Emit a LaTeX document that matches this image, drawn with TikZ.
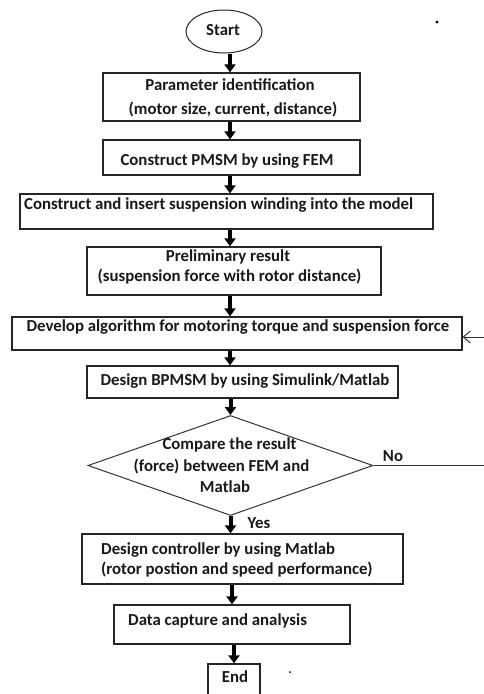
\documentclass[tikz,border=0pt]{standalone}
\usepackage{fontspec}
\setmainfont{Carlito}
\usetikzlibrary{shapes.geometric,arrows.meta}
\begin{document}
\begin{tikzpicture}[x=1pt,y=-1pt,
  box/.style={draw=black!85,line width=1.3pt,rectangle,inner sep=0pt},
  txt/.style={font=\fontsize{16.8}{18}\selectfont\bfseries,inner sep=0pt,text=black!90},
  arr/.style={line width=4pt,draw=black,-{Triangle[width=11pt,length=8pt]}},
  thin/.style={draw=black!80,line width=1pt}]
\useasboundingbox (0,0) rectangle (484,694);
% boxes
\node[ellipse,draw=black!85,line width=1pt,minimum width=76pt,minimum height=43pt,inner sep=0pt] (start) at (224,31.5) {};
\node[box,minimum width=257pt,minimum height=48pt] (param) at (231.5,97) {};
\node[box,minimum width=257pt,minimum height=35pt] (pmsm) at (231.5,157.5) {};
\node[box,minimum width=413pt,minimum height=35pt] (wind) at (226.5,211.5) {};
\node[box,minimum width=294pt,minimum height=48pt] (prel) at (234,271) {};
\node[box,minimum width=450pt,minimum height=33pt] (dev) at (237,333.5) {};
\node[box,minimum width=311pt,minimum height=32pt] (bpm) at (242.5,382) {};
\node[diamond,thin,minimum width=285pt,minimum height=100pt,aspect=2.85,inner sep=0pt] (cmp) at (230.5,465.5) {};
\node[box,minimum width=321pt,minimum height=50pt] (ctrl) at (242.5,559) {};
\node[box,minimum width=236pt,minimum height=39pt] (data) at (232,624.5) {};
\node[box,minimum width=52pt,minimum height=40pt] (end) at (234,684) {};
% texts
\node[txt] (tstart) at (223,30) {Start};
\node[txt] (tp1) at (230,85) {Parameter identification};
\node[txt] (tp2) at (233,110) {(motor size, current, distance)};
\node[txt] (tpm) at (227,161) {Construct PMSM by using FEM};
\node[txt,anchor=west] (twi) at (24,205) {Construct and insert suspension winding into the model};
\node[txt] (tpr1) at (228,257) {Preliminary result};
\node[txt] (tpr2) at (229.5,277) {(suspension force with rotor distance)};
\node[txt] (tdev) at (238,327) {Develop algorithm for motoring torque and suspension force};
\node[txt] (tbpm) at (245,381) {Design BPMSM by using Simulink/Matlab};
\node[txt] (tc1) at (229.5,445) {Compare the result};
\node[txt] (tc2) at (221.5,467) {(force) between FEM and};
\node[txt] (tc3) at (225,487) {Matlab};
\node[txt] (tno) at (393,456) {No};
\node[txt] (tyes) at (259,523) {Yes};
\node[txt,anchor=west] (tct1) at (101,550) {Design controller by using Matlab};
\node[txt,anchor=west] (tct2) at (101,570) {(rotor postion and speed performance)};
\node[txt,anchor=west] (tda) at (128,621) {Data capture and analysis};
\node[txt] (tend) at (235,677) {End};
% specks
\fill[black] (437,22) circle (1.6pt);
\fill[black] (290,672) circle (1pt);
% column coordinate
\coordinate (col) at (230,0);
\coordinate (redge) at (484,465.5);
\coordinate (redge2) at (484,337);
% arrows
\draw[arr] (start.south -| col) -- (param.north -| col);
\draw[arr] (param.south -| col) -- (pmsm.north -| col);
\draw[arr] (pmsm.south -| col) -- (wind.north -| col);
\draw[arr] (wind.south -| col) -- (prel.north -| col);
\draw[arr] (prel.south -| col) -- (dev.north -| col);
\draw[arr] (dev.south -| col) -- (bpm.north -| col);
\draw[arr] (bpm.south -| cmp.north) -- (cmp.north);
\draw[arr] (cmp.south) -- (ctrl.north -| cmp.south);
\draw[arr] (ctrl.south -| data.north) -- (data.north);
\draw[arr] (data.south -| end.north) -- (end.north);
% feedback
\draw[thin] (cmp.east) -- (redge);
\draw[thin,-{Straight Barb[width=12pt,length=7pt]}] (redge2) -- (redge2 -| dev.east);
\end{tikzpicture}
\end{document}
